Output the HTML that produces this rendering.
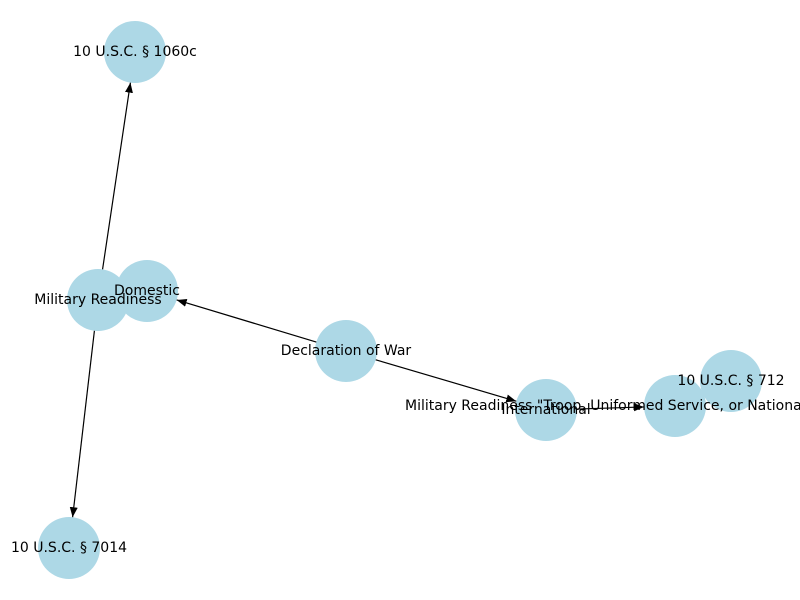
<!DOCTYPE html>
<html><head><meta charset="utf-8"><style>html,body{margin:0;padding:0;background:#fff}svg{display:block}text{font-family:"DejaVu Sans","Liberation Sans",sans-serif;font-size:14px;fill:#000}</style></head>
<body>
<svg id="chart" width="800" height="600" viewBox="0 0 800 600" xmlns="http://www.w3.org/2000/svg">
<defs><marker id="ah" markerWidth="10" markerHeight="8" refX="10" refY="4" orient="auto" markerUnits="userSpaceOnUse"><path d="M0,0 L10,4 L0,8 Z" fill="#000"/></marker></defs>
<g id="nodes"></g><g id="edges"></g><g id="labels"></g>
</svg>
<script>
const nodeIds = ["1060c","milread","domestic","decl","intl","troop","712","7014"];
const nodeLabels = ["10 U.S.C. § 1060c","Military Readiness","Domestic","Declaration of War","International","Military Readiness \"Troop, Uniformed Service, or National Guard\"","10 U.S.C. § 712","10 U.S.C. § 7014"];
const nodeX = [135,98,147,346,546,675,731,69];
const nodeY = [52,300,291,351,410,406,381,548];
const edgeFrom = ["decl","decl","intl","milread","milread"];
const edgeTo = ["domestic","intl","troop","1060c","7014"];
const R = 31;
const ns = "http://www.w3.org/2000/svg";
const gN = document.getElementById('nodes'), gE = document.getElementById('edges'), gL = document.getElementById('labels');
function idx(id){return nodeIds.indexOf(id);}
nodeIds.forEach((id,i)=>{
  const c=document.createElementNS(ns,'circle');
  c.setAttribute('cx',nodeX[i]);c.setAttribute('cy',nodeY[i]);c.setAttribute('r',R);c.setAttribute('fill','#add8e6');
  
  
  gN.appendChild(c);
  const t=document.createElementNS(ns,'text');
  if(id==='troop'){t.setAttribute('x',nodeX[i]-270);t.setAttribute('text-anchor','start');}
  else{t.setAttribute('x',nodeX[i]);t.setAttribute('text-anchor','middle');}
  t.setAttribute('y',nodeY[i]+4);
  t.textContent=nodeLabels[i];
  
  
  gL.appendChild(t);
});
edgeFrom.forEach((f,k)=>{
  const a=idx(f),b=idx(edgeTo[k]);
  const dx=nodeX[b]-nodeX[a],dy=nodeY[b]-nodeY[a],d=Math.hypot(dx,dy);
  const ux=dx/d,uy=dy/d;
  const l=document.createElementNS(ns,'line');
  l.setAttribute('x1',nodeX[a]+ux*R);l.setAttribute('y1',nodeY[a]+uy*R);
  l.setAttribute('x2',nodeX[b]-ux*R);l.setAttribute('y2',nodeY[b]-uy*R);
  l.setAttribute('stroke','#000');l.setAttribute('stroke-width','1.2');l.setAttribute('marker-end','url(#ah)');
  
  
  gE.appendChild(l);
});
</script>
</body></html>
